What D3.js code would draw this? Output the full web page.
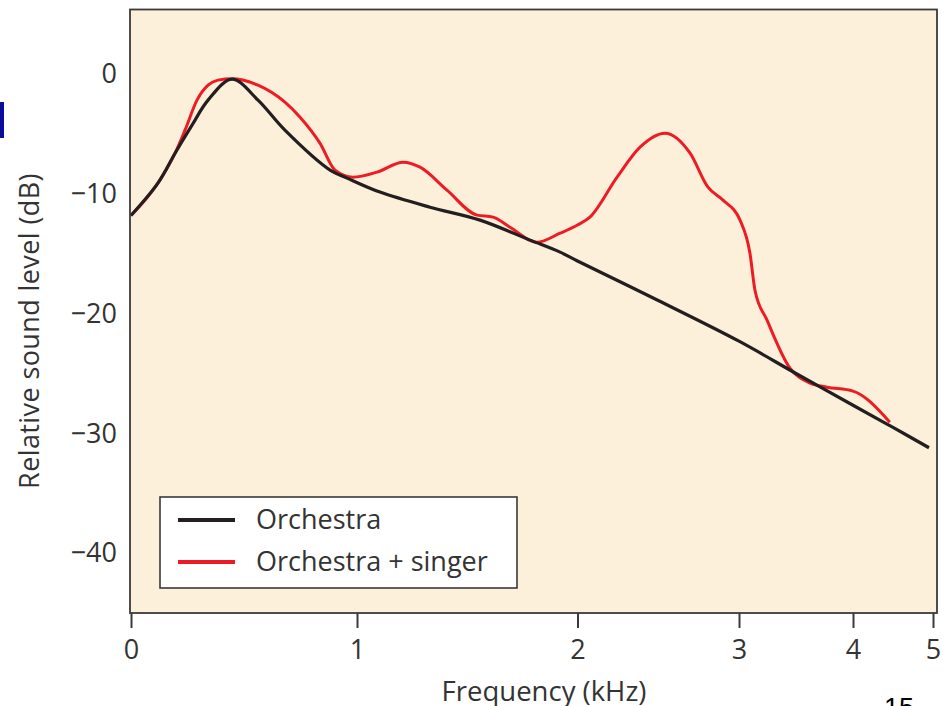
<!DOCTYPE html>
<html>
<head>
<meta charset="utf-8">
<script src="https://cdn.jsdelivr.net/npm/d3@7"></script>
<style>
  body { margin: 0; background: #fff; }
  svg { display: block; font-family: "Open Sans", sans-serif; }
</style>
</head>
<body>
<svg id="chart" width="949" height="706"></svg>
<script>
// frequency in kHz, level in dB
const orchestraFreq = [0, 0.119, 0.195, 0.27, 0.341, 0.447, 0.562, 0.681, 0.881, 0.956, 1.104, 1.331, 1.558, 1.785, 1.921, 2.0, 2.5, 3.0, 3.5, 4.0, 4.5, 4.95];
const orchestraDb = [-11.8, -9.1, -6.6, -4.26, -2.17, -0.42, -2.17, -4.68, -8.02, -8.68, -9.85, -11.11, -12.19, -13.86, -14.86, -15.6, -18.9, -22.3, -25.0, -27.65, -29.5, -31.2];

const singerFreq = [0, 0.119, 0.195, 0.239, 0.292, 0.341, 0.385, 0.447, 0.562, 0.681, 0.748, 0.836, 0.903, 0.982, 1.091, 1.209, 1.286, 1.408, 1.544, 1.617, 1.694, 1.816, 1.921, 2.0, 2.077, 2.245, 2.387, 2.542, 2.697, 2.808, 2.901, 3.009, 3.096, 3.14, 3.246, 3.447, 3.623, 3.772, 4.0, 4.46];
const singerDb = [-11.8, -9.1, -6.6, -4.68, -2.17, -0.92, -0.5, -0.38, -0.92, -2.34, -3.59, -5.76, -8.02, -8.6, -8.18, -7.35, -7.77, -9.69, -11.77, -11.94, -12.78, -14.03, -13.28, -12.6, -11.94, -8.6, -6.1, -4.93, -6.6, -9.44, -10.52, -12.19, -14.95, -18.04, -20.54, -24.55, -25.8, -26.14, -26.47, -29.06];

const xTicks = [0, 1, 2, 3, 4, 5];
const yTicks = [0, -10, -20, -30, -40];

const seriesNames = ["Orchestra", "Orchestra + singer"];
const seriesColors = ["#231f20", "#ed1c24"];

const svg = d3.select("#chart");

// the frequency axis is warped, so use a piecewise linear scale
const x = d3.scaleLinear()
  .domain(xTicks)
  .range([131, 357, 577.5, 739, 853, 933]);

const y = d3.scaleLinear()
  .domain([-45, 5.4])
  .range([613, 9.5]);

const plot = { left: 130, top: 9.5, right: 937, bottom: 613 };

// background
svg.append("rect")
  .attr("x", plot.left)
  .attr("y", plot.top)
  .attr("width", plot.right - plot.left)
  .attr("height", plot.bottom - plot.top)
  .attr("fill", "#fdf0da");

const smoothLine = d3.line()
  .x((d) => x(d[0]))
  .y((d) => y(d[1]))
  .curve(d3.curveCatmullRom.alpha(0.5));

const redLine = d3.line()
  .x((d) => x(d[0]))
  .y((d) => y(d[1]))
  .curve(d3.curveMonotoneX);

const orchestra = orchestraFreq.map((f, i) => [f, orchestraDb[i]]);
const singer = singerFreq.map((f, i) => [f, singerDb[i]]);

svg.append("path")
  .datum(singer)
  .attr("d", redLine)
  .attr("fill", "none")
  .attr("stroke", seriesColors[1])
  .attr("stroke-width", 3);

svg.append("path")
  .datum(orchestra)
  .attr("d", smoothLine)
  .attr("fill", "none")
  .attr("stroke", seriesColors[0])
  .attr("stroke-width", 3.2);

// frame
svg.append("rect")
  .attr("x", plot.left)
  .attr("y", plot.top)
  .attr("width", plot.right - plot.left)
  .attr("height", plot.bottom - plot.top)
  .attr("fill", "none")
  .attr("stroke", "#3a3a3a")
  .attr("stroke-width", 1.8);

// x axis
const xAxis = svg.append("g")
  .attr("transform", `translate(0, ${plot.bottom})`)
  .call(d3.axisBottom(x).tickValues(xTicks).tickSize(15).tickPadding(12).tickFormat(d3.format("d")));
xAxis.select(".domain").remove();
xAxis.selectAll(".tick line").attr("stroke", "#3a3a3a").attr("stroke-width", 2);
xAxis.selectAll(".tick text")
  .attr("fill", "#333")
  .style("font-family", "'Open Sans', sans-serif")
  .style("font-size", "27px");

// y axis: labels only
const yAxis = svg.append("g")
  .attr("transform", `translate(${plot.left}, 0)`)
  .call(d3.axisLeft(y).tickValues(yTicks).tickSize(0).tickPadding(13)
    .tickFormat((d) => (d < 0 ? "\u2212" + Math.abs(d) : d)));
yAxis.select(".domain").remove();
yAxis.selectAll(".tick text")
  .attr("fill", "#333")
  .style("font-family", "'Open Sans', sans-serif")
  .style("font-size", "27px");

svg.append("text")
  .attr("x", 544)
  .attr("y", 701)
  .attr("text-anchor", "middle")
  .attr("fill", "#333")
  .style("font-size", "27.5px")
  .text("Frequency (kHz)");

svg.append("text")
  .attr("transform", "translate(39, 331) rotate(-90)")
  .attr("text-anchor", "middle")
  .attr("fill", "#333")
  .style("font-size", "27px")
  .style("letter-spacing", "0.4px")
  .text("Relative sound level (dB)");

// legend
const legend = svg.append("g");
legend.append("rect")
  .attr("x", 160)
  .attr("y", 497)
  .attr("width", 357)
  .attr("height", 91)
  .attr("fill", "#fff")
  .attr("stroke", "#3a3a3a")
  .attr("stroke-width", 1.6);

seriesNames.forEach((name, i) => {
  const ly = 520 + i * 42;
  legend.append("line")
    .attr("x1", 178).attr("x2", 235)
    .attr("y1", ly).attr("y2", ly)
    .attr("stroke", seriesColors[i])
    .attr("stroke-width", 4);
  legend.append("text")
    .attr("x", 256)
    .attr("y", ly)
    .attr("dy", "0.35em")
    .attr("fill", "#333")
    .style("font-size", "27px")
    .text(name);
});

// slide leftovers: blue bar and page number
svg.append("rect")
  .attr("x", 0).attr("y", 102)
  .attr("width", 4).attr("height", 36)
  .attr("fill", "#0b0b9c");

svg.append("text")
  .attr("x", 884)
  .attr("y", 717)
  .attr("fill", "#000")
  .style("font-family", "'Liberation Sans', Arial, sans-serif")
  .style("font-size", "27px")
  .text("15");
</script>
</body>
</html>
